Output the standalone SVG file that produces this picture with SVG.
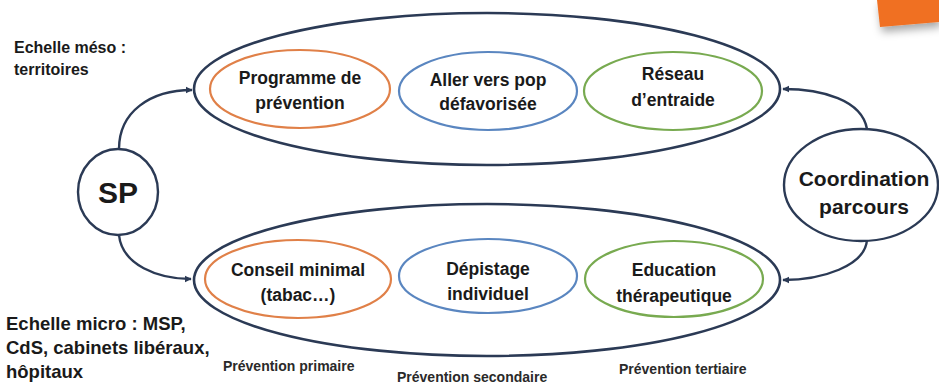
<svg xmlns="http://www.w3.org/2000/svg" width="939" height="385" viewBox="0 0 939 385">
<style>
text{font-family:"Liberation Sans",Arial,sans-serif;font-weight:bold;fill:#1a1a1a;}
.big{fill:none;stroke:#2b3a55;stroke-width:2.6;}
.node{fill:#fff;stroke:#2b3a55;stroke-width:2.4;}
.or{fill:#fff;stroke:#e08048;stroke-width:2.2;}
.bl{fill:#fff;stroke:#5a86c0;stroke-width:2.2;}
.gr{fill:#fff;stroke:#78aa50;stroke-width:2.2;}
.lbl{font-size:17.5px;text-anchor:middle;}
.side{font-size:16px;}
.micro{font-size:18.5px;}
.prev{font-size:14px;fill:#2a2a2a;}
.conn{fill:none;stroke:#2b3a55;stroke-width:2.4;marker-end:url(#ah);}
</style>
<defs>
<marker id="ah" viewBox="0 0 10 10" refX="9" refY="5" markerWidth="3" markerHeight="3" orient="auto" markerUnits="strokeWidth">
<path d="M0,0 L10,5 L0,10 z" fill="#2b3a55"/>
</marker>
<filter id="sh" x="-20%" y="-20%" width="150%" height="200%">
<feDropShadow dx="2" dy="5" stdDeviation="4" flood-color="#000" flood-opacity="0.35"/>
</filter>
</defs>
<rect width="939" height="385" fill="#fff"/>
<polygon points="877,0 939,0 939,22 880,27" fill="#f07020" filter="url(#sh)"/>

<g id="connectors">
<path class="conn" d="M119,149 C119,112 150,90 192,90"/>
<path class="conn" d="M119,235 C122,265 158,279 191,279"/>
<path class="conn" d="M867,129 C862,100 822,89 783,89"/>
<path class="conn" d="M867,240 C865,266 822,280 783,280"/>
</g>

<g id="meso">
<ellipse class="big" cx="487" cy="89" rx="293" ry="76"/>
</g>
<g id="micro">
<ellipse class="big" cx="487" cy="280" rx="293" ry="76"/>
</g>

<g id="programme">
<ellipse class="or" cx="300" cy="89" rx="90" ry="39"/>
<text class="lbl" x="300" y="84">Programme de</text>
<text class="lbl" x="300" y="109">prévention</text>
</g>
<g id="aller">
<ellipse class="bl" cx="488" cy="91" rx="89" ry="39"/>
<text class="lbl" x="488" y="86">Aller vers pop</text>
<text class="lbl" x="488" y="110">défavorisée</text>
</g>
<g id="reseau">
<ellipse class="gr" cx="673" cy="91" rx="89" ry="39"/>
<text class="lbl" x="673" y="80">Réseau</text>
<text class="lbl" x="673" y="106">d’entraide</text>
</g>

<g id="conseil">
<ellipse class="or" cx="298" cy="279" rx="93" ry="39"/>
<text class="lbl" x="298" y="276">Conseil minimal</text>
<text class="lbl" x="298" y="301">(tabac…)</text>
</g>
<g id="depistage">
<ellipse class="bl" cx="488" cy="276" rx="89" ry="37"/>
<text class="lbl" x="488" y="275">Dépistage</text>
<text class="lbl" x="488" y="300">individuel</text>
</g>
<g id="education">
<ellipse class="gr" cx="674" cy="279" rx="89" ry="38"/>
<text class="lbl" x="674" y="276">Education</text>
<text class="lbl" x="674" y="302">thérapeutique</text>
</g>

<g id="sp">
<ellipse class="node" cx="118" cy="192" rx="40" ry="43"/>
<text x="118" y="203" font-size="30" text-anchor="middle">SP</text>
</g>
<g id="coordination">
<ellipse class="node" cx="861" cy="185" rx="77" ry="56"/>
<text x="864" y="186" font-size="21" text-anchor="middle">Coordination</text>
<text x="864" y="214" font-size="21" text-anchor="middle">parcours</text>
</g>

<g id="labels">
<text class="side" x="14" y="53">Echelle méso :</text>
<text class="side" x="14" y="75">territoires</text>
<text class="micro" x="6" y="330">Echelle micro : MSP,</text>
<text class="micro" x="6" y="354">CdS, cabinets libéraux,</text>
<text class="micro" x="6" y="378">hôpitaux</text>
<text class="prev" x="223" y="371">Prévention primaire</text>
<text class="prev" x="397" y="382">Prévention secondaire</text>
<text class="prev" x="619" y="374">Prévention tertiaire</text>
</g>
</svg>
